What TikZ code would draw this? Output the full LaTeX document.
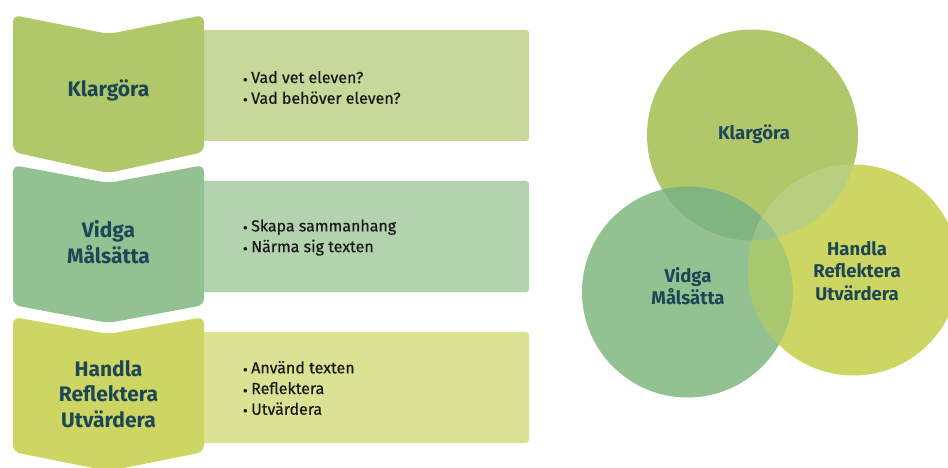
\documentclass[tikz,border=0pt]{standalone}
\usepackage{fontspec}
\setmainfont{Fira Sans}
\newfontfamily\medfont{Fira Sans}[FakeBold=0.5]
\definecolor{kc}{HTML}{B0C76A}
\definecolor{vc}{HTML}{93C292}
\definecolor{hc}{HTML}{CDD662}
\definecolor{kr}{HTML}{C8D89A}
\definecolor{vr}{HTML}{B3D3AE}
\definecolor{hr}{HTML}{DCE294}
\definecolor{kv}{HTML}{80B57F}
\definecolor{kh}{HTML}{B9CF80}
\definecolor{vh}{HTML}{A8C870}
\definecolor{kvh}{HTML}{96C28C}
\definecolor{titlec}{HTML}{1D4656}
\definecolor{bulc}{HTML}{1A1A1A}
\tikzset{
  chevtitle/.style={text=titlec, font=\fontsize{21}{25.5}\selectfont\bfseries, align=center},
  circtitle/.style={text=titlec, font=\fontsize{18.5}{22.5}\selectfont\bfseries, align=center},
  bullist/.style={text=bulc, font=\medfont\fontsize{16}{20.7}\selectfont, align=left, anchor=west, inner sep=0pt},
  panel/.style={rounded corners=3pt},
  chevshape/.style={rounded corners=7pt}
}
\newcommand{\bul}{\makebox[8pt][l]{\raisebox{0.05em}{\small$\bullet$}}}
\begin{document}
\begin{tikzpicture}[x=1pt,y=-1pt]
\useasboundingbox (0,0) rectangle (948,468);
% panels
\fill[kr,panel] (190,30) rectangle (529,141);
\fill[vr,panel] (190,181) rectangle (529,292);
\fill[hr,panel] (190,332) rectangle (529,443);
% chevrons
\fill[kc,chevshape] (13,15) -- (108.5,34) -- (204,15) -- (204,152) -- (108.5,173) -- (13,152) -- cycle;
\fill[vc,chevshape] (13,165) -- (108.5,183) -- (204,165) -- (204,305) -- (108.5,323) -- (13,305) -- cycle;
\fill[hc,chevshape] (13,317) -- (108.5,334) -- (204,317) -- (204,452) -- (108.5,471) -- (13,452) -- cycle;
% titles
\node[chevtitle] (t1) at (108.5,90) {Klargöra};
\node[chevtitle] (t2) at (108.5,242) {Vidga\\Målsätta};
\node[chevtitle] (t3) at (108.5,394) {Handla\\Reflektera\\Utvärdera};
% bullets
\node[bullist] (b1) at (243,87.5) {\bul Vad vet eleven?\\\bul Vad behöver eleven?};
\node[bullist] (b2) at (243,237.5) {\bul Skapa sammanhang\\\bul Närma sig texten};
\node[bullist] (b3) at (243,388) {\bul Använd texten\\\bul Reflektera\\\bul Utvärdera};
% venn
\coordinate (ck) at (752.5,135);
\coordinate (cv) at (687.5,292);
\coordinate (ch) at (853.5,270);
\fill[kc] (ck) circle[radius=105.5];
\fill[vc] (cv) circle[radius=105.5];
\fill[hc] (ch) circle[radius=105.5];
\begin{scope}
  \clip (ck) circle[radius=105.5];
  \fill[kv] (cv) circle[radius=105.5];
  \fill[kh] (ch) circle[radius=105.5];
\end{scope}
\begin{scope}
  \clip (cv) circle[radius=105.5];
  \fill[vh] (ch) circle[radius=105.5];
\end{scope}
\begin{scope}
  \clip (ck) circle[radius=105.5];
  \clip (cv) circle[radius=105.5];
  \fill[kvh] (ch) circle[radius=105.5];
\end{scope}
\node[circtitle] (c1) at (754,134) {Klargöra};
\node[circtitle] (c2) at (688,286) {Vidga\\Målsätta};
\node[circtitle] (c3) at (857,271) {Handla\\Reflektera\\Utvärdera};
\end{tikzpicture}
\end{document}
